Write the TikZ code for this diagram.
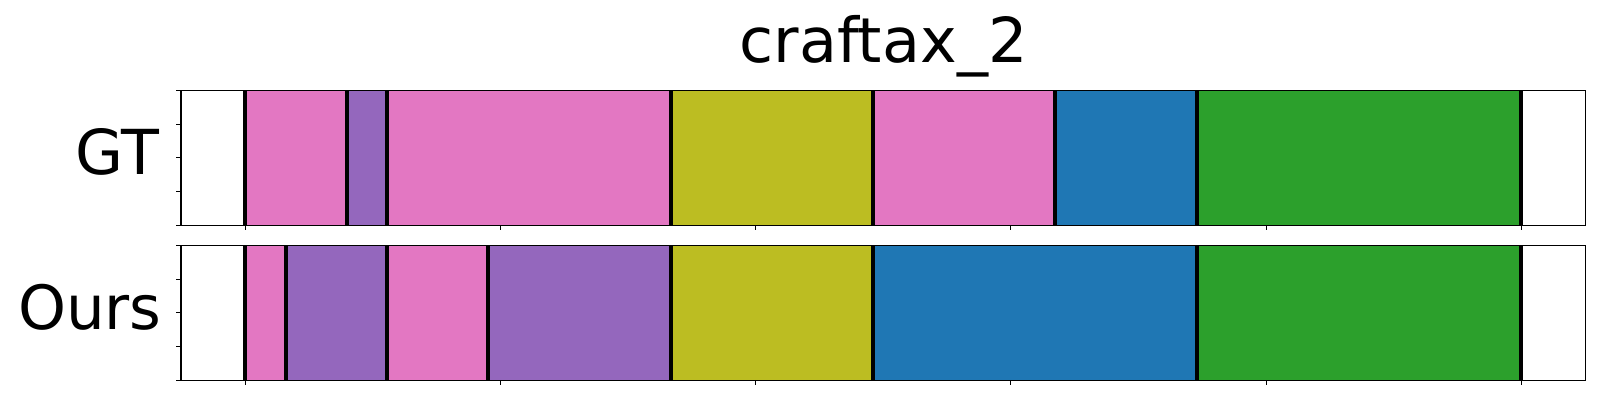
\documentclass[tikz,border=0pt]{standalone}
\usepackage{fontspec}
\setmainfont{DejaVu Sans}
\definecolor{tpink}{HTML}{E377C2}
\definecolor{tpurple}{HTML}{9467BD}
\definecolor{tolive}{HTML}{BCBD22}
\definecolor{tblue}{HTML}{1F77B4}
\definecolor{tgreen}{HTML}{2CA02C}
\begin{document}
\begin{tikzpicture}[x=0.5pt,y=-0.5pt,
  bnd/.style={line width=2pt, black},
  axframe/.style={line width=0.6pt, black},
  tickmark/.style={line width=0.5pt, black},
  lab/.style={font=\fontsize{31}{31}\selectfont, inner sep=0pt}]
\useasboundingbox[fill=white] (0,0) rectangle (1600,400);
% GT row
\foreach \a/\b/\c in {245/347/tpink, 347/387/tpurple, 387/671/tpink, 671/873/tolive, 873/1055/tpink, 1055/1197/tblue, 1197/1521/tgreen}
  \fill[\c] (\a,90.3) rectangle (\b,225.3);
\foreach \x in {245,347,387,671,873,1055,1197,1521}
  \draw[bnd] (\x,90.3) -- (\x,225.3);
% Ours row
\foreach \a/\b/\c in {245/286/tpink, 286/387/tpurple, 387/488/tpink, 488/671/tpurple, 671/873/tolive, 873/1197/tblue, 1197/1521/tgreen}
  \fill[\c] (\a,245.3) rectangle (\b,380.3);
\foreach \x in {245,286,387,488,671,873,1197,1521}
  \draw[bnd] (\x,245.3) -- (\x,380.3);
% frames and ticks
\foreach \t/\bt in {90.3/225.3, 245.3/380.3}{
  \draw[axframe] (181,\t) rectangle (1585.7,\bt);
  \foreach \i in {0,...,4}
    \draw[tickmark] (176,{\t+33.75*\i}) -- (181,{\t+33.75*\i});
  \foreach \x in {245.3,500.5,755.7,1010.9,1266.1,1521.3}
    \draw[tickmark] (\x,\bt) -- (\x,\bt+5);
}
% texts
\node[lab, anchor=base] (title) at (883.5,62.7) {craftax\_2};
\node[lab, anchor=base east] (gt) at (159.5,175) {GT};
\node[lab, anchor=base east, font=\fontsize{30.5}{30.5}\selectfont] (ours) at (162,330) {Ours};
\end{tikzpicture}
\end{document}
